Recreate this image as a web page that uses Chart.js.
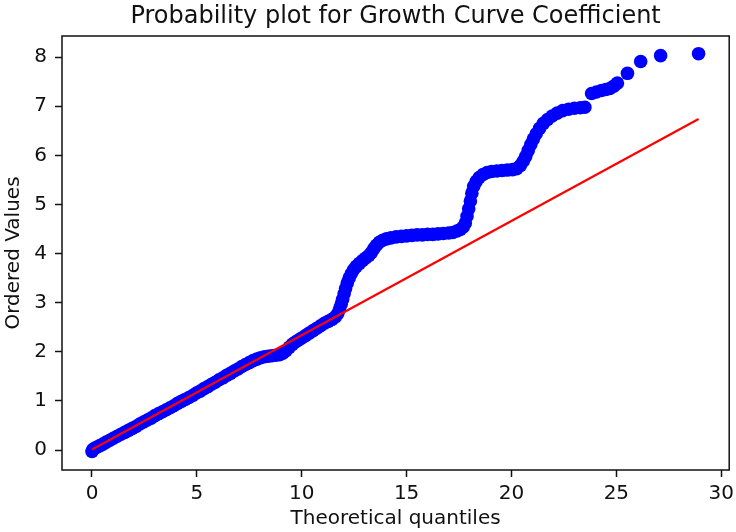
<!DOCTYPE html>
<html>
<head>
<meta charset="utf-8">
<title>Probability plot for Growth Curve Coefficient</title>
<script src="https://cdn.jsdelivr.net/npm/chart.js@4/dist/chart.umd.min.js"></script>
<style>
  html, body { margin: 0; padding: 0; background: #ffffff; }
  #wrap { width: 736px; height: 532px; }
</style>
</head>
<body>
<div id="wrap"><canvas id="plot" width="736" height="532"></canvas></div>
<script>
// Axis ticks
const xTicks = [0, 5, 10, 15, 20, 25, 30];
const yTicks = [0, 1, 2, 3, 4, 5, 6, 7, 8];

// Theoretical quantiles (x) and ordered sample values (y)
const quantiles = [
  0.00, 0.03, 0.08, 0.15, 0.25, 0.38, 0.52, 0.68, 0.85, 1.02,
  1.20, 1.38, 1.56, 1.74, 1.92, 2.10, 2.28, 2.46, 2.64, 2.82,
  3.00, 3.18, 3.36, 3.54, 3.72, 3.90, 4.08, 4.26, 4.44, 4.62,
  4.80, 4.98, 5.16, 5.34, 5.52, 5.70, 5.88, 6.06, 6.24, 6.42,
  6.60, 6.78, 6.96, 7.14, 7.32, 7.50, 7.68, 7.86, 8.04, 8.22,
  8.40, 8.58, 8.76, 8.94, 9.10, 9.25, 9.40, 9.55, 9.70, 9.85,
  10.00, 10.18, 10.36, 10.54, 10.72, 10.90, 11.08, 11.26, 11.44, 11.60,
  11.72, 11.80, 11.88, 11.95, 12.02, 12.09, 12.17, 12.26, 12.36, 12.47,
  12.60, 12.75, 12.90, 13.05, 13.20, 13.32, 13.44, 13.56, 13.70, 13.86,
  14.04, 14.25, 14.50, 14.75, 15.00, 15.25, 15.50, 15.75, 16.00, 16.25,
  16.50, 16.75, 17.00, 17.20, 17.40, 17.56, 17.70, 17.80, 17.88, 17.96,
  18.04, 18.11, 18.20, 18.32, 18.46, 18.64, 18.84, 19.05, 19.30, 19.55,
  19.80, 20.05, 20.25, 20.42, 20.56, 20.68, 20.80, 20.92, 21.04, 21.18,
  21.34, 21.52, 21.72, 21.94, 22.18, 22.44, 22.72, 23.00, 23.28, 23.50,
  23.82, 24.05, 24.29, 24.50, 24.69, 24.88, 25.05, 25.53, 26.16, 27.11,
  28.92
];
const orderedValues = [
  -0.03, 0.00, 0.02, 0.04, 0.06, 0.09, 0.12, 0.16, 0.20, 0.24,
  0.28, 0.32, 0.36, 0.40, 0.44, 0.48, 0.53, 0.57, 0.61, 0.65,
  0.70, 0.74, 0.78, 0.82, 0.86, 0.90, 0.95, 0.99, 1.03, 1.07,
  1.11, 1.16, 1.20, 1.25, 1.29, 1.34, 1.38, 1.43, 1.47, 1.52,
  1.56, 1.61, 1.65, 1.70, 1.74, 1.78, 1.82, 1.85, 1.88, 1.90,
  1.91, 1.92, 1.93, 1.94, 1.97, 2.02, 2.09, 2.15, 2.20, 2.24,
  2.28, 2.33, 2.38, 2.43, 2.48, 2.53, 2.58, 2.62, 2.66, 2.71,
  2.78, 2.87, 2.97, 3.07, 3.18, 3.29, 3.40, 3.50, 3.59, 3.67,
  3.74, 3.80, 3.86, 3.91, 3.96, 4.02, 4.10, 4.17, 4.23, 4.27,
  4.30, 4.32, 4.34, 4.35, 4.36, 4.37, 4.38, 4.38, 4.39, 4.39,
  4.40, 4.41, 4.42, 4.43, 4.46, 4.49, 4.54, 4.62, 4.76, 4.91,
  5.07, 5.23, 5.37, 5.47, 5.55, 5.61, 5.65, 5.67, 5.68, 5.69,
  5.70, 5.71, 5.73, 5.79, 5.88, 5.98, 6.10, 6.22, 6.33, 6.44,
  6.55, 6.65, 6.73, 6.80, 6.86, 6.91, 6.94, 6.96, 6.97, 6.98,
  7.26, 7.29, 7.32, 7.34, 7.36, 7.41, 7.47, 7.67, 7.91, 8.03,
  8.07
];

// Least-squares fit line end points
const fitX = [0.00, 28.92];
const fitY = [0.01, 6.74];

const chartTitle = 'Probability plot for Growth Curve Coefficient';

const FONT = "'DejaVu Sans', 'Liberation Sans', sans-serif";
const INK = '#111111';

const samplePoints = quantiles.map((q, i) => ({ x: q, y: orderedValues[i] }));
const fitPoints = fitX.map((q, i) => ({ x: q, y: fitY[i] }));

// Full rectangular frame around the plotting area, plus a title centred on it
const frame = {
  id: 'frame',
  afterDraw(chart) {
    const { ctx, chartArea: a } = chart;
    ctx.save();
    ctx.strokeStyle = INK;
    ctx.lineWidth = 1.5;
    ctx.strokeRect(a.left, a.top, a.right - a.left, a.bottom - a.top);
    ctx.fillStyle = INK;
    ctx.font = '24px ' + FONT;
    ctx.textAlign = 'center';
    ctx.textBaseline = 'alphabetic';
    ctx.fillText(chartTitle, (a.left + a.right) / 2, 22.5);
    ctx.restore();
  }
};

new Chart(document.getElementById('plot'), {
  type: 'scatter',
  data: {
    datasets: [
      {
        label: 'fit',
        data: fitPoints,
        showLine: true,
        borderColor: '#ff0000',
        borderWidth: 2.2,
        pointRadius: 0,
        fill: false
      },
      {
        label: 'samples',
        data: samplePoints,
        pointRadius: 6.8,
        pointHoverRadius: 6.8,
        pointBackgroundColor: '#0000ff',
        pointBorderWidth: 0,
        showLine: false
      }
    ]
  },
  plugins: [frame],
  options: {
    responsive: false,
    devicePixelRatio: 1,
    animation: false,
    events: [],
    layout: { padding: { left: 0, right: 5, top: 36, bottom: 0 } },
    plugins: {
      legend: { display: false },
      tooltip: { enabled: false },
      title: { display: false }
    },
    scales: {
      x: {
        type: 'linear',
        position: 'bottom',
        min: -1.43,
        max: 30.38,
        afterBuildTicks: s => { s.ticks = xTicks.map(v => ({ value: v })); },
        afterFit: s => { s.height = 62; s.paddingLeft = 0; s.paddingRight = 0; },
        ticks: {
          color: INK,
          font: { family: FONT, size: 20 },
          padding: 5,
          maxRotation: 0,
          autoSkip: false
        },
        grid: { drawOnChartArea: false, drawTicks: true, tickLength: 7, tickWidth: 1.5, color: INK },
        border: { display: false },
        title: {
          display: true,
          text: 'Theoretical quantiles',
          color: INK,
          font: { family: FONT, size: 20 },
          padding: { top: 0, bottom: 1 }
        }
      },
      y: {
        type: 'linear',
        position: 'left',
        min: -0.407,
        max: 8.43,
        afterBuildTicks: s => { s.ticks = yTicks.map(v => ({ value: v })); },
        afterFit: s => { s.width = 62; s.paddingTop = 0; s.paddingBottom = 0; },
        ticks: {
          color: INK,
          font: { family: FONT, size: 20 },
          padding: 8,
          autoSkip: false
        },
        grid: { drawOnChartArea: false, drawTicks: true, tickLength: 7, tickWidth: 1.5, color: INK },
        border: { display: false },
        title: {
          display: true,
          text: 'Ordered Values',
          color: INK,
          font: { family: FONT, size: 20 },
          padding: { top: 2, bottom: 0 }
        }
      }
    }
  }
});
</script>
</body>
</html>
